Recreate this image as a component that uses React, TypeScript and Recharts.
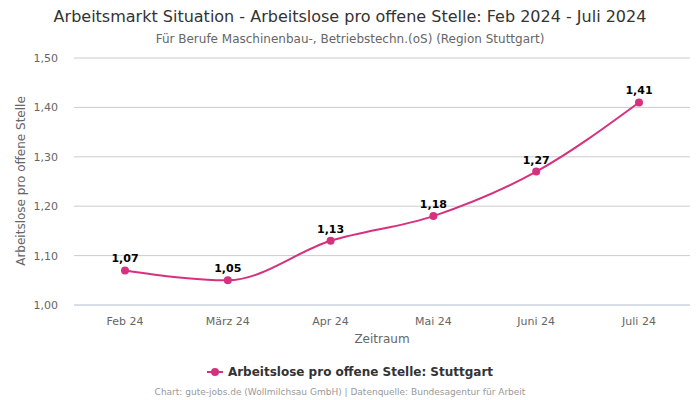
import React from "react";
import { LineChart, Line, XAxis, YAxis, CartesianGrid, LabelList } from "recharts";

const months = ["Feb 24", "März 24", "Apr 24", "Mai 24", "Juni 24", "Juli 24"];
const stuttgart = [1.07, 1.05, 1.13, 1.18, 1.27, 1.41];
const yTicks = [1.0, 1.1, 1.2, 1.3, 1.4, 1.5];

const data = months.map((m, i) => ({ month: m, value: stuttgart[i] }));

const fmt = (v: number) => v.toFixed(2).replace(".", ",");
const font = "'DejaVu Sans', sans-serif";
const pink = "#d6317f";

export default function App() {
  return (
    <div style={{ position: "relative", width: 700, height: 400, fontFamily: font, background: "#fff" }}>
      <style>{"body{margin:0}"}</style>
      <div style={{ position: "absolute", top: 7, left: 0, width: 700, textAlign: "center", fontSize: 16, color: "#333" }}>
        Arbeitsmarkt Situation - Arbeitslose pro offene Stelle: Feb 2024 - Juli 2024
      </div>
      <div style={{ position: "absolute", top: 32, left: 0, width: 700, textAlign: "center", fontSize: 12, color: "#666" }}>
        Für Berufe Maschinenbau-, Betriebstechn.(oS) (Region Stuttgart)
      </div>
      <LineChart width={700} height={400} data={data} margin={{ top: 58, right: 10, left: 0, bottom: 65 }}>
        <CartesianGrid vertical={false} stroke="#cccccc" />
        <XAxis
          dataKey="month"
          height={30}
          padding={{ left: 51, right: 51 }}
          tickLine={false}
          axisLine={{ stroke: "#ccd6eb" }}
          tick={{ fill: "#666", fontSize: 11, fontFamily: font }}
          tickMargin={6}
        />
        <YAxis
          width={74}
          domain={[1, 1.5]}
          ticks={yTicks}
          tickFormatter={fmt}
          axisLine={false}
          tickLine={false}
          tickSize={8}
          tickMargin={8}
          tick={{ fill: "#666", fontSize: 11, fontFamily: font }}
        />
        <Line
          type="monotone"
          dataKey="value"
          stroke={pink}
          strokeWidth={2}
          dot={{ r: 4, fill: pink, stroke: pink, strokeWidth: 0 }}
          isAnimationActive={false}
        >
          <LabelList
            dataKey="value"
            position="top"
            offset={8}
            formatter={(v: any) => fmt(Number(v))}
            style={{ fontSize: 11, fontWeight: "bold", fill: "#000", fontFamily: font }}
          />
        </Line>
      </LineChart>
      <div
        style={{
          position: "absolute",
          left: 21,
          top: 181,
          transform: "translate(-50%, -50%) rotate(-90deg)",
          whiteSpace: "nowrap",
          fontSize: 12,
          color: "#666",
        }}
      >
        Arbeitslose pro offene Stelle
      </div>
      <div style={{ position: "absolute", top: 332, left: 74, width: 616, textAlign: "center", fontSize: 12, color: "#666" }}>
        Zeitraum
      </div>
      <div
        style={{
          position: "absolute",
          top: 365,
          left: 0,
          width: 700,
          display: "flex",
          justifyContent: "center",
          alignItems: "center",
          fontSize: 12,
          fontWeight: "bold",
          color: "#333",
        }}
      >
        <svg width={16} height={12} style={{ marginRight: 5 }}>
          <line x1={0} y1={6} x2={16} y2={6} stroke={pink} strokeWidth={2} />
          <circle cx={8} cy={6} r={4} fill={pink} />
        </svg>
        Arbeitslose pro offene Stelle: Stuttgart
      </div>
      <div style={{ position: "absolute", top: 387, left: 0, width: 680, textAlign: "center", fontSize: 9, color: "#999" }}>
        Chart: gute-jobs.de (Wollmilchsau GmbH) | Datenquelle: Bundesagentur für Arbeit
      </div>
    </div>
  );
}
